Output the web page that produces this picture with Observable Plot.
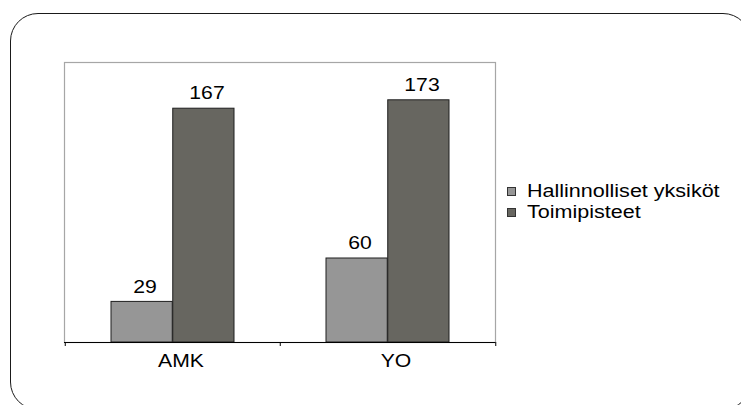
<!DOCTYPE html>
<html>
<head>
<meta charset="utf-8">
<script src="https://cdn.jsdelivr.net/npm/d3@7"></script>
<script src="https://cdn.jsdelivr.net/npm/@observablehq/plot@0.6"></script>
<style>
  html, body { margin: 0; padding: 0; background: #fff; overflow: hidden; }
  #wrap { position: relative; width: 741px; height: 405px; overflow: hidden; font-family: "Liberation Sans", Arial, Helvetica, sans-serif; }
  #frame { position: absolute; left: 10px; top: 13px; width: 741px; height: 397px; border: 1.6px solid #1a1a1a; border-radius: 28px; box-sizing: border-box; }
  #chart { position: absolute; left: 0; top: 0; }
  .leg-row { position: absolute; left: 507px; height: 20px; display: flex; align-items: center; white-space: nowrap; }
  .sw { width: 7px; height: 7px; border: 1px solid #333; margin-right: 11px; }
  .lt { font-size: 17.5px; line-height: 20px; color: #000; display: inline-block; transform: scaleX(1.23); transform-origin: left center; }
</style>
</head>
<body>
<div id="wrap">
  <div id="frame"></div>
  <div id="chart"></div>
</div>
<script>
const categories = ["AMK", "YO"];
const seriesNames = ["Hallinnolliset yksiköt", "Toimipisteet"];
const hallinnolliset = [29, 60];
const toimipisteet = [167, 173];
const seriesColors = ["#969696", "#676660"];

const light = categories.map((c, i) => ({cat: c, series: seriesNames[0], value: hallinnolliset[i]}));
const dark = categories.map((c, i) => ({cat: c, series: seriesNames[1], value: toimipisteet[i]}));

const plot = Plot.plot({
  width: 741,
  height: 405,
  marginLeft: 64,
  marginRight: 246,
  marginTop: 62,
  marginBottom: 63,
  style: {fontFamily: "'Liberation Sans', Arial, Helvetica, sans-serif", fontSize: "17.5px", color: "#000", background: "transparent"},
  x: {domain: categories, padding: 0, label: null, axis: null},
  y: {domain: [0, 200], axis: null},
  color: {domain: seriesNames, range: seriesColors},
  marks: [
    Plot.frame({stroke: "#a6a6a6", strokeWidth: 1.2}),
    Plot.barY(light, {x: "cat", y: "value", fill: "series", stroke: "#1e1e1e", strokeWidth: 1, insetLeft: 46, insetRight: 107.75}),
    Plot.barY(dark, {x: "cat", y: "value", fill: "series", stroke: "#1e1e1e", strokeWidth: 1, insetLeft: 107.75, insetRight: 46}),
    Plot.text(light, {x: "cat", y: "value", text: d => String(d.value), dx: -28, dy: -15, fill: "#000"}),
    Plot.text(dark, {x: "cat", y: "value", text: d => String(d.value), dx: 34, dy: -15, fill: "#000"}),
    Plot.ruleY([0], {stroke: "#000", strokeWidth: 1.2}),
    Plot.ruleX(categories, {x: d => d, y1: 0, y2: 0, insetBottom: -4, dx: -107.75, stroke: "#000"}),
    Plot.ruleX(categories.slice(-1), {x: d => d, y1: 0, y2: 0, insetBottom: -4, dx: 107.75, stroke: "#000"}),
    Plot.axisX({tickSize: 0, tickPadding: 12, dx: 8, label: null, fill: "#000", fontSize: 17.5})
  ]
});

// horizontal stretch of the text to match the reference's wide lettering
plot.querySelectorAll("text").forEach(t => {
  const tr = t.getAttribute("transform") || "";
  t.setAttribute("transform", tr + " scale(1.21,1)");
});

document.getElementById("chart").appendChild(plot);

const color = plot.scale("color");
const wrap = document.getElementById("wrap");
const rowTops = [181, 202];
seriesNames.forEach((name, i) => {
  const row = document.createElement("div");
  row.className = "leg-row";
  row.style.top = rowTops[i] + "px";
  const sw = document.createElement("div");
  sw.className = "sw";
  sw.style.background = color.apply(name);
  const lt = document.createElement("span");
  lt.className = "lt";
  lt.textContent = name;
  row.appendChild(sw);
  row.appendChild(lt);
  wrap.appendChild(row);
});
</script>
</body>
</html>
